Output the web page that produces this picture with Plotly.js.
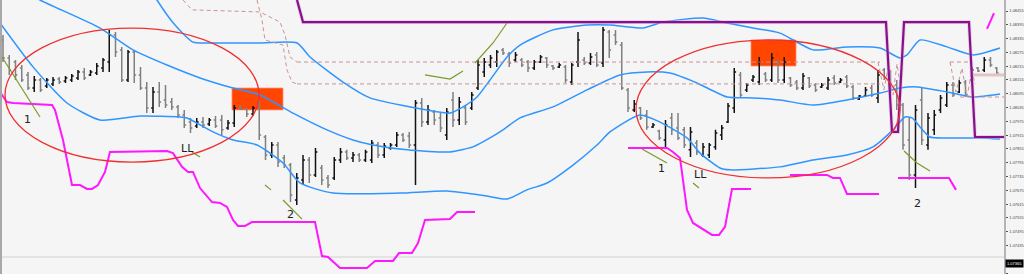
<!DOCTYPE html>
<html><head><meta charset="utf-8">
<script src="https://cdn.plot.ly/plotly-3.0.1.min.js"></script>
<style>html,body{margin:0;padding:0;background:#f5f5f5;}#chart{width:1024px;height:274px;}</style>
</head><body><div id="chart"></div>
<script>
// OHLC bars (bar index = position in arrays)
const open = [1.08329,1.08251,1.08233,1.08207,1.08177,1.08120,1.08155,1.08129,1.08138,1.08159,
1.08151,1.08155,1.08164,1.08190,1.08177,1.08185,1.08207,1.08233,1.08351,1.08286,
1.08155,1.08277,1.08177,1.08120,1.08033,1.08103,1.08068,1.08059,1.08038,1.08003,
1.07972,1.07955,1.07972,1.07964,1.07981,1.07981,1.07946,1.07968,1.08038,1.08029,
1.08007,1.08046,1.07907,1.07829,1.07872,1.07816,1.07785,1.07633,1.07720,1.07807,
1.07742,1.07772,1.07729,1.07729,1.07807,1.07842,1.07816,1.07829,1.07807,1.07807,
1.07872,1.07829,1.07859,1.07872,1.07916,1.07911,1.07872,1.08055,1.07972,1.08016,
1.07990,1.07916,1.08068,1.07981,1.08033,1.08033,1.08120,1.08190,1.08220,1.08233,
1.08286,1.08268,1.08242,1.08242,1.08233,1.08207,1.08233,1.08251,1.08216,1.08212,
1.08212,1.08146,1.08233,1.08242,1.08229,1.08264,1.08229,1.08364,1.08351,1.08307,
1.08112,1.08025,1.08033,1.08003,1.07951,1.07933,1.07894,1.07990,1.07946,1.07938,
1.07851,1.07881,1.07829,1.07829,1.07864,1.07916,1.07972,1.08033,1.08177,1.08112,
1.08155,1.08146,1.08181,1.08155,1.08233,1.08155,1.08164,1.08146,1.08120,1.08164,
1.08133,1.08125,1.08120,1.08164,1.08146,1.08168,1.08125,1.08072,1.08085,1.08120,
1.08077,1.08199,1.08177,1.08133,1.08046,1.07894,1.07742,1.08068,1.07872,1.07938,
1.08025,1.08046,1.08133,1.08103,1.08146,1.08155,1.08207,1.08199,1.08242,1.08207];
const high = [1.08351,1.08264,1.08242,1.08220,1.08190,1.08172,1.08164,1.08164,1.08168,1.08168,
1.08172,1.08181,1.08199,1.08207,1.08199,1.08229,1.08251,1.08373,1.08364,1.08299,
1.08286,1.08286,1.08212,1.08146,1.08125,1.08146,1.08133,1.08077,1.08046,1.08025,
1.07990,1.07990,1.07994,1.07990,1.07998,1.08003,1.07981,1.08046,1.08046,1.08033,
1.08042,1.08068,1.07916,1.07885,1.07885,1.07829,1.07794,1.07750,1.07829,1.07820,
1.07859,1.07785,1.07742,1.07820,1.07859,1.07851,1.07842,1.07837,1.07851,1.07894,
1.07885,1.07881,1.07881,1.07929,1.07924,1.07929,1.08068,1.08077,1.08046,1.08025,
1.08016,1.08033,1.08103,1.08081,1.08046,1.08103,1.08242,1.08251,1.08264,1.08286,
1.08294,1.08277,1.08277,1.08251,1.08242,1.08242,1.08264,1.08255,1.08220,1.08229,
1.08220,1.08229,1.08364,1.08255,1.08272,1.08277,1.08386,1.08373,1.08373,1.08320,
1.08120,1.08068,1.08038,1.08025,1.07968,1.07938,1.07981,1.08011,1.08011,1.07951,
1.07951,1.07894,1.07881,1.07881,1.07938,1.07959,1.08055,1.08207,1.08190,1.08142,
1.08177,1.08255,1.08190,1.08272,1.08242,1.08255,1.08168,1.08155,1.08185,1.08168,
1.08142,1.08142,1.08168,1.08177,1.08164,1.08177,1.08133,1.08090,1.08125,1.08133,
1.08199,1.08207,1.08199,1.08155,1.08055,1.07994,1.08046,1.08125,1.08011,1.08025,
1.08090,1.08146,1.08146,1.08155,1.08155,1.08212,1.08212,1.08255,1.08255,1.08212];
const low = [1.08233,1.08177,1.08155,1.08146,1.08112,1.08103,1.08103,1.08120,1.08129,1.08138,
1.08142,1.08146,1.08155,1.08155,1.08172,1.08177,1.08190,1.08190,1.08255,1.08146,
1.08146,1.08142,1.08112,1.08011,1.08011,1.08038,1.08033,1.08025,1.07990,1.07946,
1.07924,1.07946,1.07946,1.07955,1.07946,1.07916,1.07938,1.07951,1.08025,1.07994,
1.07998,1.07894,1.07807,1.07816,1.07777,1.07772,1.07624,1.07611,1.07698,1.07707,
1.07733,1.07698,1.07685,1.07720,1.07794,1.07807,1.07798,1.07798,1.07798,1.07794,
1.07816,1.07816,1.07851,1.07864,1.07885,1.07859,1.07698,1.07951,1.07959,1.07959,
1.07929,1.07894,1.07951,1.07959,1.07959,1.08025,1.08112,1.08168,1.08207,1.08212,
1.08264,1.08212,1.08233,1.08212,1.08190,1.08199,1.08229,1.08207,1.08199,1.08207,
1.08142,1.08133,1.08212,1.08220,1.08220,1.08212,1.08212,1.08251,1.08307,1.08112,
1.08016,1.08016,1.07981,1.07938,1.07946,1.07894,1.07864,1.07916,1.07894,1.07859,
1.07820,1.07829,1.07820,1.07816,1.07851,1.07894,1.07968,1.08011,1.08077,1.08103,
1.08146,1.08133,1.08146,1.08146,1.08142,1.08142,1.08125,1.08112,1.08112,1.08120,
1.08103,1.08120,1.08112,1.08133,1.08142,1.08120,1.08068,1.08068,1.08081,1.08081,
1.08055,1.08155,1.08098,1.08025,1.07851,1.07720,1.07685,1.07872,1.07851,1.07916,
1.08011,1.08038,1.08081,1.08098,1.08081,1.08146,1.08190,1.08190,1.08212,1.08177];
const close = [1.08251,1.08199,1.08177,1.08155,1.08120,1.08155,1.08112,1.08155,1.08155,1.08146,
1.08164,1.08172,1.08190,1.08164,1.08190,1.08216,1.08242,1.08351,1.08277,1.08155,
1.08277,1.08177,1.08120,1.08033,1.08103,1.08059,1.08046,1.08038,1.08003,1.07959,
1.07946,1.07972,1.07959,1.07981,1.07955,1.07938,1.07968,1.08033,1.08029,1.08007,
1.08033,1.07916,1.07829,1.07872,1.07798,1.07785,1.07655,1.07729,1.07807,1.07742,
1.07842,1.07720,1.07698,1.07807,1.07842,1.07816,1.07829,1.07807,1.07842,1.07881,
1.07829,1.07868,1.07872,1.07916,1.07894,1.07872,1.08055,1.07972,1.08025,1.07981,
1.07946,1.08016,1.07981,1.08059,1.07972,1.08090,1.08220,1.08233,1.08251,1.08277,
1.08272,1.08229,1.08264,1.08220,1.08207,1.08233,1.08255,1.08220,1.08207,1.08220,
1.08155,1.08220,1.08329,1.08229,1.08255,1.08220,1.08373,1.08286,1.08320,1.08120,
1.08033,1.08051,1.07990,1.07951,1.07959,1.07903,1.07959,1.07938,1.07903,1.07872,
1.07929,1.07842,1.07864,1.07872,1.07924,1.07946,1.08042,1.08190,1.08090,1.08133,
1.08168,1.08233,1.08155,1.08251,1.08155,1.08233,1.08133,1.08120,1.08172,1.08129,
1.08112,1.08133,1.08155,1.08142,1.08155,1.08129,1.08077,1.08085,1.08112,1.08090,
1.08177,1.08164,1.08112,1.08046,1.07872,1.07742,1.08025,1.07894,1.07990,1.08003,
1.08077,1.08133,1.08090,1.08142,1.08090,1.08199,1.08194,1.08242,1.08220,1.08185];

// Bollinger bands (x = bar index, y = price)
const upperX = [23.52,24.64,27.52,30.4,32.64,41.12,47.04,49.12,54.4,58.72,65.12,71.52,73.6,75.84,77.92,80.64,82.72,88,93.44,97.12,102.4,105.6,112,115.84,120,124.32,129.6,135.04,140.32,143.52,144.64,146.72,151.04,155.2,159.52];
const upperY = [1.08555,1.08503,1.08394,1.08320,1.08316,1.08316,1.08316,1.08255,1.08146,1.08077,1.08038,1.08011,1.08038,1.08081,1.08155,1.08255,1.08307,1.08373,1.08394,1.08394,1.08381,1.08407,1.08425,1.08403,1.08381,1.08359,1.08286,1.08299,1.08294,1.08251,1.08264,1.08329,1.08299,1.08264,1.08294];
const midX = [2.72,5.92,15.52,20.8,26.24,31.52,36.8,41.12,46.4,51.84,56,59.2,64.64,71.52,75.2,77.92,80,82.72,88,93.44,98.72,103.04,106.72,111.04,115.84,120,124.32,129.6,135.04,140.32,143.52,146.24,151.04,155.2,159.52];
const midY = [1.08555,1.08503,1.08381,1.08286,1.08220,1.08164,1.08120,1.08090,1.08011,1.07938,1.07894,1.07872,1.07851,1.07842,1.07864,1.07903,1.07938,1.07990,1.08038,1.08112,1.08177,1.08190,1.08185,1.08142,1.08081,1.08077,1.08068,1.08046,1.08068,1.08098,1.08120,1.08125,1.08103,1.08081,1.08094];
const lowerX = [-0.48,4.8,10.24,15.52,21.92,28.32,29.44,33.6,36.8,40.64,44.8,47.52,52.8,63.52,71.04,77.44,80.64,83.84,87.04,91.2,95.04,97.12,101.92,105.12,109.44,111.52,114.72,116.32,124.32,129.6,135.04,139.2,142.4,144.32,145.44,146.72,148.32,151.04,156.32,159.52];
const lowerY = [1.08403,1.08212,1.08055,1.07981,1.07998,1.07994,1.07990,1.07929,1.07894,1.07872,1.07794,1.07707,1.07663,1.07663,1.07672,1.07650,1.07637,1.07677,1.07707,1.07785,1.07872,1.07929,1.08003,1.07972,1.07903,1.07837,1.07772,1.07764,1.07777,1.07807,1.07829,1.07864,1.07938,1.07994,1.07990,1.07951,1.07907,1.07903,1.07903,1.07898];

// Magenta indicator segments
const pinkX1 = [-0.48,0.64,1.6,7.84,8.32,9.6,11.04,12.32,13.44,14.24,15.2,16.32,17.12,26.24,27.2,28.64,29.6,30.4,31.52,33.44,34.72,35.84,36.8,37.6,38.72,39.84,49.92,51.04,52,53.92,58.24,59.52,62.4,63.36,65.44,66.4,67.52,71.52,72.64,75.52];
const pinkY1 = [1.08103,1.08059,1.08055,1.08046,1.08025,1.07894,1.07698,1.07698,1.07681,1.07681,1.07698,1.07755,1.07842,1.07846,1.07837,1.07777,1.07755,1.07755,1.07685,1.07624,1.07620,1.07603,1.07546,1.07520,1.07520,1.07537,1.07537,1.07389,1.07385,1.07337,1.07337,1.07368,1.07368,1.07402,1.07402,1.07446,1.07546,1.07550,1.07581,1.07581];
const pinkX2 = [100,106.24,107.2,108.32,109.44,110.4,113.44,114.56,115.52,116.64,119.68];
const pinkY2 = [1.07859,1.07859,1.07842,1.07816,1.07590,1.07533,1.07481,1.07481,1.07516,1.07681,1.07681];
const pinkX3 = [125.92,131.84,132.8,133.92,135.04,140.16];
const pinkY3 = [1.07742,1.07742,1.07729,1.07729,1.07659,1.07659];
const pinkX4 = [143.2,151.36,152.48];
const pinkY4 = [1.07729,1.07729,1.07677];
const pinkX5 = [157.44,158.56];
const pinkY5 = [1.08377,1.08446];

// Purple step line
const purpleX = [47.04,48,141.28,142.24,143.2,144.16,154.56,155.52,160.16];
const purpleY = [1.08503,1.08407,1.08407,1.07929,1.07929,1.08407,1.08407,1.07907,1.07907];

// Olive trend strokes
const oliveSegs = [
  {x:[-0.16,5.92], y:[1.08255,1.07994]},
  {x:[30.24,31.52], y:[1.07842,1.07820]},
  {x:[41.92,42.88], y:[1.07698,1.07677]},
  {x:[44.8,47.84], y:[1.07633,1.07550]},
  {x:[67.52,71.52,73.6], y:[1.08177,1.08159,1.08194]},
  {x:[75.52,78.4,80.64], y:[1.08229,1.08316,1.08403]},
  {x:[102.24,106.24], y:[1.07855,1.07794]},
  {x:[110.4,111.36], y:[1.07707,1.07685]},
  {x:[144.16,146.24,148.32], y:[1.07846,1.07794,1.07759]}
];

// Dashed level lines
const dashSegs = [
  {x:[47.04,140.32], y:[1.08233,1.08233]},
  {x:[47.04,140.32], y:[1.08138,1.08138]},
  {x:[28.8,30.24,41.12,42.72,44.32,45.12,45.92,47.04], y:[1.08503,1.08460,1.08451,1.08429,1.08407,1.08351,1.08255,1.08233]},
  {x:[40.64,41.44,41.92,44.8,45.44,46.24,47.04], y:[1.08503,1.08416,1.08329,1.08307,1.08199,1.08146,1.08138]},
  {x:[140,140.96,141.6,142.4,143.04,143.52], y:[1.08233,1.08112,1.08207,1.08090,1.08225,1.08138]},
  {x:[151.52,152.48,153.44,154.24,155.04,155.52], y:[1.08233,1.08103,1.08207,1.08081,1.08199,1.08138]},
  {x:[151.52,155.04], y:[1.08233,1.08233]},
  {x:[153.12,160.16], y:[1.08081,1.08081]}
];
const paleX = [155.04,160.16];
const paleY = [1.08177,1.08177];

// Labels
const labelText = ['1','LL','2','1','LL','2'];
const labelX = [3.84,29.44,45.92,105.28,111.52,146.24];
const labelY = [1.07981,1.07855,1.07568,1.07768,1.07742,1.07616];

// Drawing objects
const ellipses = [
  {x0:0.32, x1:40.96, y0:1.07798, y1:1.08381},
  {x0:101.28, x1:143.52, y0:1.07729, y1:1.08329}
];
const boxes = [
  {x0:36.64, x1:44.8, y0:1.08025, y1:1.08120},
  {x0:119.68, x1:126.88, y0:1.08216, y1:1.08329}
];
const sepLevel = 1.07385;
const curPrice = 1.07355;
const curText = '1.07365';

// Axis ticks
const tickVals = [1.08455,1.08395,1.08335,1.08275,1.08215,1.08155,1.08095,1.08035,1.07975,1.07915,1.07855,1.07795,1.07735,1.07675,1.07615,1.07555,1.07495,1.07435,1.07315];
const tickText = tickVals.map(v => v.toFixed(5));

const idx = open.map((_, i) => i);
const BLUE = '#2f95ff', PINK = '#ff17ff', PURPLE = '#8a0f8a', OLIVE = '#7a9a2a', DASH = '#c99393';
const traces = [];
traces.push({x: upperX, y: upperY, mode:'lines', line:{color:BLUE, width:1.5, shape:'spline', smoothing:0.6}});
traces.push({x: midX, y: midY, mode:'lines', line:{color:BLUE, width:1.5, shape:'spline', smoothing:0.6}});
traces.push({x: lowerX, y: lowerY, mode:'lines', line:{color:BLUE, width:1.5, shape:'spline', smoothing:0.6}});
dashSegs.forEach(s => traces.push({x:s.x, y:s.y, mode:'lines', line:{color:DASH, width:1, dash:'4px,3px'}}));
traces.push({x: paleX, y: paleY, mode:'lines', line:{color:'#e2c4c4', width:3}});
[[pinkX1,pinkY1],[pinkX2,pinkY2],[pinkX3,pinkY3],[pinkX4,pinkY4],[pinkX5,pinkY5]].forEach(p =>
  traces.push({x:p[0], y:p[1], mode:'lines', line:{color:PINK, width:2}}));
oliveSegs.forEach(s => traces.push({x:s.x, y:s.y, mode:'lines', line:{color:OLIVE, width:1.2}}));
traces.push({type:'ohlc', x: idx, open, high, low, close, tickwidth:0.3,
  increasing:{line:{color:'#111111', width:1.5}}, decreasing:{line:{color:'#808080', width:1.5}}});
traces.push({x: purpleX, y: purpleY, mode:'lines', line:{color:'rgba(210,170,220,0.45)', width:4}});
traces.push({x: purpleX, y: purpleY, mode:'lines', line:{color:PURPLE, width:2.2}});

const shapes = [];
boxes.forEach(b => shapes.push({type:'rect', xref:'x', yref:'y', x0:b.x0, x1:b.x1, y0:b.y0, y1:b.y1,
  fillcolor:'#ff4500', line:{color:'rgba(255,140,110,0.8)', width:1}, layer:'below'}));
ellipses.forEach(e => shapes.push({type:'circle', xref:'x', yref:'y', x0:e.x0, x1:e.x1, y0:e.y0, y1:e.y1,
  line:{color:'#f03030', width:1.3}, layer:'above'}));
shapes.push({type:'line', xref:'paper', yref:'y', x0:0, x1:1, y0:sepLevel, y1:sepLevel, line:{color:'#e3e3e3', width:2}, layer:'below'});
shapes.push({type:'line', xref:'paper', yref:'paper', x0:0.001, x1:0.001, y0:0, y1:1, line:{color:'#a8a8a8', width:2}});

const annotations = labelText.map((t, i) => ({x:labelX[i], y:labelY[i], text:t, showarrow:false,
  font:{family:'DejaVu Sans, Arial', size:11, color:'#222'}}));
annotations.push({xref:'paper', x:1.001, xanchor:'left', y:curPrice, yref:'y', text:curText, showarrow:false,
  bgcolor:'#000', font:{family:'Liberation Sans', size:4, color:'#fff'}, borderpad:1});

const layout = {
  width:1024, height:274, margin:{l:0, r:20, t:0, b:0, pad:0},
  paper_bgcolor:'#f5f5f5', plot_bgcolor:'#f5f5f5', showlegend:false,
  xaxis:{range:[-0.48,160.16], showgrid:false, zeroline:false, showticklabels:false, ticks:'', rangeslider:{visible:false}, fixedrange:true},
  yaxis:{side:'right', range:[1.07311,1.08503], showgrid:false, zeroline:false, tickvals:tickVals, ticktext:tickText,
    ticks:'outside', ticklen:2, tickcolor:'#555', ticklabelstandoff:1, tickfont:{family:'Liberation Sans', size:4, color:'#444'},
    showline:true, linecolor:'#b5b5b5', linewidth:1.5, mirror:false},
  shapes, annotations
};
Plotly.newPlot('chart', traces, layout, {staticPlot:true, displayModeBar:false});
</script></body></html>
